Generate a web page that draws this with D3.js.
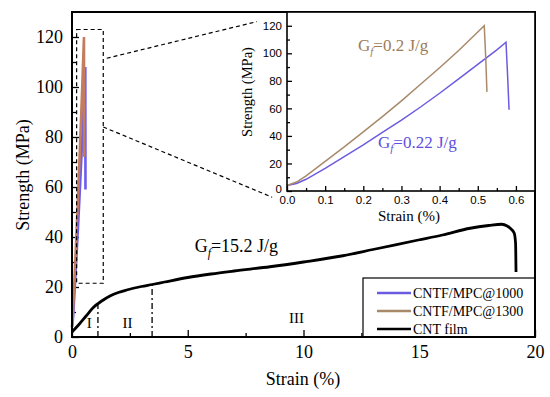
<!DOCTYPE html>
<html><head><meta charset="utf-8">
<script src="https://cdn.jsdelivr.net/npm/d3@7"></script>
<style>body{margin:0;background:#fff}svg{display:block}</style>
</head><body><svg id="c" width="550" height="397"></svg>
<script>
// ---- data ----
const seriesNames = ["CNTF/MPC@1000", "CNTF/MPC@1300", "CNT film"];
const mpc1000Strain   = [0, 0.025, 0.05, 0.1, 0.15, 0.2, 0.25, 0.3, 0.35, 0.4, 0.45, 0.5, 0.55, 0.574, 0.578, 0.582];
const mpc1000Strength = [4, 5.5, 8.5, 16.5, 25, 33.5, 42.5, 51.5, 61, 71, 81.5, 92, 102.5, 108, 85, 59];
const mpc1300Strain   = [0, 0.025, 0.05, 0.1, 0.15, 0.2, 0.25, 0.3, 0.35, 0.4, 0.45, 0.5, 0.517, 0.521, 0.524];
const mpc1300Strength = [4, 6.5, 11, 21.5, 32, 43, 54, 65.5, 77.5, 89.5, 102, 115.5, 120, 96, 72];
const filmStrain   = [0, 0.3, 0.6, 0.92, 1.3, 1.64, 2, 2.36, 3, 3.46, 4, 5, 6, 7, 8.55, 10, 11.7, 13, 14.96, 16, 17.2, 18, 18.56, 18.8, 18.92, 19.1, 19.16, 19.18];
const filmStrength = [2, 5, 8.3, 11.8, 14.5, 16.4, 17.8, 18.8, 20.2, 21, 22, 23.8, 25.2, 26.4, 28.1, 30, 32.5, 35, 38.8, 40.8, 43.5, 44.6, 45.1, 44.4, 43.6, 41.6, 37.6, 26];
const xTicksMain = [0, 5, 10, 15, 20];
const xMinorMain = [2.5, 7.5, 12.5, 17.5];
const yTicksMain = [0, 20, 40, 60, 80, 100, 120];
const yMinorMain = [10, 30, 50, 70, 90, 110];
const xTicksInset = [0, 0.1, 0.2, 0.3, 0.4, 0.5, 0.6];
const xMinorInset = [0.05, 0.15, 0.25, 0.35, 0.45, 0.55];
const yTicksInset = [0, 20, 40, 60, 80, 100, 120];
const yMinorInset = [10, 30, 50, 70, 90, 110];
const regionBounds = [1.12, 3.46];
const regionTops = [13.3, 21];
const regionLabels = ["I", "II", "III"];
const regionLabelX = [0.75, 2.4, 9.7];
const zoomBoxX = [0.2, 1.35];
const zoomBoxY = [21.5, 123];

// ---- setup ----
const svg = d3.select("#c");
const serif = "'Liberation Serif','Times New Roman',serif";
const sans = "'Liberation Sans',Arial,sans-serif";
const blue = "#6b5be0", brown = "#a88a6a";
const blueMain = "#6a5cf0", brownMain = "#c47c5e";

const x = d3.scaleLinear([0, 20], [72, 535]);
const y = d3.scaleLinear([0, 130], [337, 12]);

const zip = (a, b) => a.map((v, i) => [v, b[i]]);
const blueData = zip(mpc1000Strain, mpc1000Strength);
const brownData = zip(mpc1300Strain, mpc1300Strength);
const filmData = zip(filmStrain, filmStrength);

function styleAxis(g, font, size) {
  g.select(".domain").remove();
  g.selectAll("line").attr("stroke", "#000").attr("stroke-width", 1.3);
  g.selectAll("text").attr("font-family", font).attr("font-size", size).attr("fill", "#000");
}

// main axes
svg.append("g").attr("transform", "translate(0,337)")
  .call(d3.axisBottom(x).tickValues(xTicksMain).tickSize(-7).tickPadding(8).tickFormat(d3.format("d")))
  .call(g => styleAxis(g, serif, 18));
svg.append("g").attr("transform", "translate(0,337)")
  .call(d3.axisBottom(x).tickValues(xMinorMain).tickSize(-4).tickFormat(""))
  .call(g => styleAxis(g, serif, 18));
svg.append("g").attr("transform", "translate(72,0)")
  .call(d3.axisLeft(y).tickValues(yTicksMain).tickSize(-7).tickPadding(9).tickFormat(d3.format("d")))
  .call(g => styleAxis(g, serif, 18));
svg.append("g").attr("transform", "translate(72,0)")
  .call(d3.axisLeft(y).tickValues(yMinorMain).tickSize(-4).tickFormat(""))
  .call(g => styleAxis(g, serif, 18));

// axis titles
svg.append("text").attr("x", 303).attr("y", 385).attr("text-anchor", "middle")
  .attr("font-family", serif).attr("font-size", 18).text("Strain (%)");
svg.append("text").attr("transform", "translate(29,175) rotate(-90)").attr("text-anchor", "middle")
  .attr("font-family", serif).attr("font-size", 18).text("Strength (MPa)");

// region dividers
regionBounds.forEach((b, i) => {
  svg.append("line").attr("x1", x(b)).attr("x2", x(b)).attr("y1", y(0)).attr("y2", y(regionTops[i]))
    .attr("stroke", "#000").attr("stroke-width", 1.3).attr("stroke-dasharray", "6,3,2,3");
});
regionLabels.forEach((t, i) => {
  svg.append("text").attr("x", x(regionLabelX[i])).attr("y", i === 2 ? 323 : 328).attr("text-anchor", "middle")
    .attr("font-family", serif).attr("font-size", 15).text(t);
});

// lines main
const lineMain = d3.line().x(d => x(d[0])).y(d => y(d[1]));
const lineSmooth = d3.line().x(d => x(d[0])).y(d => y(d[1])).curve(d3.curveMonotoneX);
svg.append("path").datum(filmData).attr("d", lineSmooth).attr("fill", "none").attr("stroke", "#000").attr("stroke-width", 2.8);
svg.append("path").datum(blueData).attr("d", lineMain).attr("fill", "none").attr("stroke", blueMain).attr("stroke-width", 2.6);
svg.append("path").datum(brownData).attr("d", lineMain).attr("fill", "none").attr("stroke", brownMain).attr("stroke-width", 2.6);

// dashed zoom box
svg.append("rect").attr("x", x(zoomBoxX[0])).attr("y", y(zoomBoxY[1]))
  .attr("width", x(zoomBoxX[1]) - x(zoomBoxX[0])).attr("height", y(zoomBoxY[0]) - y(zoomBoxY[1]))
  .attr("fill", "none").attr("stroke", "#000").attr("stroke-width", 1.2).attr("stroke-dasharray", "4,3");

// G_f label helper
function gfText(xp, yp, size, color, val) {
  const t = svg.append("text").attr("x", xp).attr("y", yp).attr("font-family", serif).attr("font-size", size).attr("fill", color);
  t.append("tspan").text("G");
  t.append("tspan").attr("font-style", "italic").attr("font-size", size * 0.65).attr("dy", size * 0.25).text("f");
  t.append("tspan").attr("dy", -size * 0.25).text("=" + val + " J/g");
}
gfText(x(5.3), y(34), 18, "#000", "15.2");

// legend
svg.append("rect").attr("x", 363).attr("y", 278).attr("width", 172).attr("height", 59)
  .attr("fill", "#fff").attr("stroke", "#000").attr("stroke-width", 1.2);
const legColors = [blue, brown, "#000"];
seriesNames.forEach((n, i) => {
  const yy = 293 + i * 18;
  svg.append("line").attr("x1", 377).attr("x2", 411).attr("y1", yy).attr("y2", yy)
    .attr("stroke", legColors[i]).attr("stroke-width", 2.6);
  svg.append("text").attr("x", 413).attr("y", yy).attr("dy", "0.35em").attr("font-family", serif)
    .attr("font-size", 14).text(n);
});

// main frame
svg.append("rect").attr("x", 72).attr("y", 12).attr("width", 463).attr("height", 325)
  .attr("fill", "none").attr("stroke", "#000").attr("stroke-width", 2);

// ---- inset ----
const ix = d3.scaleLinear([0, 0.65], [287, 535]);
const iy = d3.scaleLinear([0, 130], [191, 12]);

// connectors
svg.append("line").attr("x1", x(1.5)).attr("y1", y(111.5)).attr("x2", ix(-0.079)).attr("y2", iy(123))
  .attr("stroke", "#000").attr("stroke-width", 1.2).attr("stroke-dasharray", "4,3");
svg.append("line").attr("x1", x(1.35)).attr("y1", y(84)).attr("x2", ix(-0.039)).attr("y2", iy(-4.5))
  .attr("stroke", "#000").attr("stroke-width", 1.2).attr("stroke-dasharray", "4,3");

svg.append("rect").attr("x", 287).attr("y", 12).attr("width", 248).attr("height", 179).attr("fill", "#fff");

svg.append("g").attr("transform", "translate(0,191)")
  .call(d3.axisBottom(ix).tickValues(xTicksInset).tickSize(-5).tickPadding(5).tickFormat(d3.format(".1f")))
  .call(g => styleAxis(g, sans, 11.5));
svg.append("g").attr("transform", "translate(0,191)")
  .call(d3.axisBottom(ix).tickValues(xMinorInset).tickSize(-3).tickFormat(""))
  .call(g => styleAxis(g, sans, 11.5));
const iyAxis = svg.append("g").attr("transform", "translate(287,0)")
  .call(d3.axisLeft(iy).tickValues(yTicksInset).tickSize(-5).tickPadding(5).tickFormat(d3.format("d")))
  .call(g => styleAxis(g, sans, 11.5));
iyAxis.selectAll(".tick text").filter(d => d === 0).attr("dy", "0.1em");
svg.append("g").attr("transform", "translate(287,0)")
  .call(d3.axisLeft(iy).tickValues(yMinorInset).tickSize(-3).tickFormat(""))
  .call(g => styleAxis(g, sans, 11.5));

svg.append("text").attr("x", 409).attr("y", 221).attr("text-anchor", "middle")
  .attr("font-family", serif).attr("font-size", 15).text("Strain (%)");
svg.append("text").attr("transform", "translate(252,92) rotate(-90)").attr("text-anchor", "middle")
  .attr("font-family", serif).attr("font-size", 14.5).text("Strength (MPa)");

const lineInset = d3.line().x(d => ix(d[0])).y(d => iy(d[1]));
svg.append("path").datum(blueData).attr("d", lineInset).attr("fill", "none").attr("stroke", blue).attr("stroke-width", 1.5);
svg.append("path").datum(brownData).attr("d", lineInset).attr("fill", "none").attr("stroke", brown).attr("stroke-width", 1.5);

gfText(358, 51, 17, "#9c7c58", "0.2");
gfText(378, 148, 17, "#5e4fe0", "0.22");

svg.append("rect").attr("x", 287).attr("y", 12).attr("width", 248).attr("height", 179)
  .attr("fill", "none").attr("stroke", "#000").attr("stroke-width", 1.6);
</script></body></html>
